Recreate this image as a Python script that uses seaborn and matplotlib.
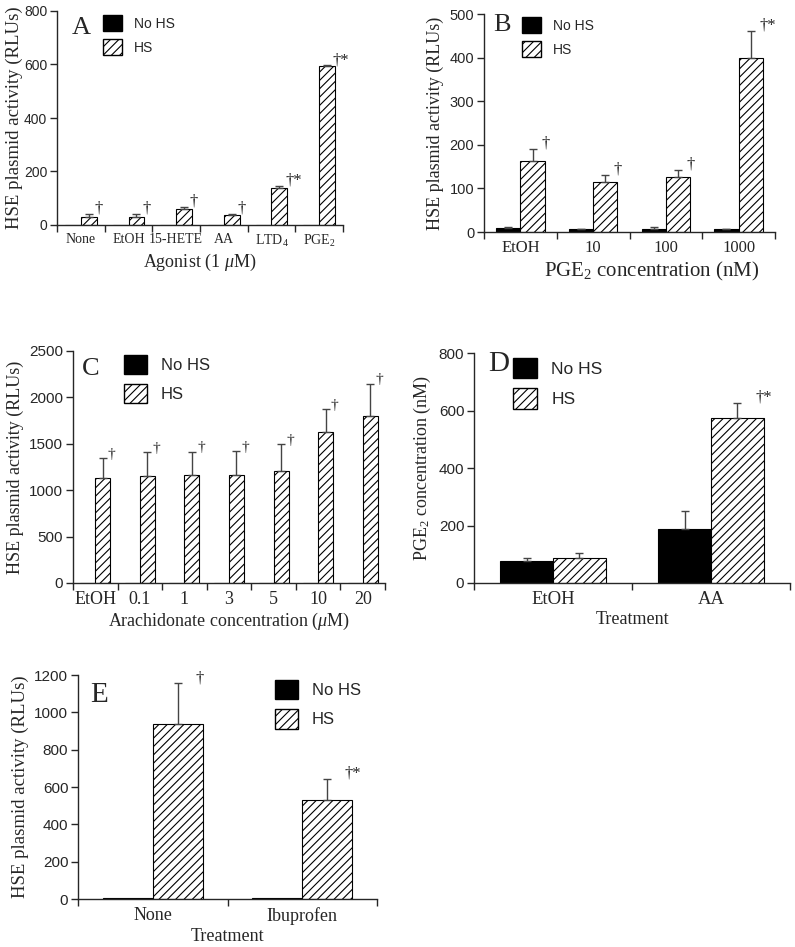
import numpy as np
import pandas as pd
import matplotlib
matplotlib.use('Agg')
import matplotlib.pyplot as plt
from matplotlib.patches import Patch
import seaborn as sns

sns.set_style('ticks')
plt.rcParams['font.family'] = ['Liberation Serif', 'DejaVu Serif']
plt.rcParams['mathtext.fontset'] = 'custom'
plt.rcParams['mathtext.rm'] = 'Liberation Serif'
plt.rcParams['mathtext.it'] = 'Liberation Serif:italic'
plt.rcParams['hatch.linewidth'] = 0.8
SANS = ['Liberation Sans', 'DejaVu Sans']

# ---- data ----
a_cats = ['None', 'EtOH', '15-HETE', 'AA', 'LTD$_4$', 'PGE$_2$']
a_nohs = [1, 1, 1, 1, 1, 1]
a_nohs_err = [0, 0, 0, 0, 0, 0]
a_hs = [29, 29, 59, 36, 140, 595]
a_hs_err = [12, 12, 8, 6, 6, 2]
a_marks = ['†', '†', '†', '†', '†*', '†*']

b_cats = ['EtOH', '10', '100', '1000']
b_nohs = [9, 6, 8, 6]
b_nohs_err = [3, 2, 3, 2]
b_hs = [162, 114, 125, 398]
b_hs_err = [29, 17, 18, 63]
b_marks = ['†', '†', '†', '†*']

c_cats = ['EtOH', '0.1', '1', '3', '5', '10', '20']
c_nohs = [2, 2, 2, 2, 2, 2, 2]
c_nohs_err = [0, 0, 0, 0, 0, 0, 0]
c_hs = [1128, 1153, 1164, 1164, 1211, 1630, 1802]
c_hs_err = [215, 258, 251, 261, 283, 247, 347]
c_marks = ['†', '†', '†', '†', '†', '†', '†']

d_cats = ['EtOH', 'AA']
d_nohs = [78, 188]
d_nohs_err = [9, 61]
d_hs = [87, 574]
d_hs_err = [17, 52]
d_marks = ['', '†*']

e_cats = ['None', 'Ibuprofen']
e_nohs = [3, 3]
e_nohs_err = [0, 0]
e_hs = [940, 530]
e_hs_err = [215, 114]
e_marks = ['†', '†*']


def px_axes(fig, x0, y0, x1, y1):
    W, H = 795, 947
    return fig.add_axes([x0 / W, 1 - y1 / H, (x1 - x0) / W, (y1 - y0) / H])


def panel(ax, cats, nohs, nohs_err, hs, hs_err, marks, ymax, yticks,
          letter, xlabel, ylabel, leg_xy, fs):
    n = len(cats)
    df = pd.DataFrame({
        'cat': list(range(n)) * 2,
        'val': list(nohs) + list(hs),
        'cond': ['No HS'] * n + ['HS'] * n,
    })
    sns.barplot(data=df, x='cat', y='val', hue='cond', ax=ax,
                palette={'No HS': 'black', 'HS': 'white'}, edgecolor='black',
                linewidth=0.8, width=0.67, gap=0, legend=False, errorbar=None,
                order=list(range(n)), hue_order=['No HS', 'HS'])
    for p in ax.patches:
        i = int(round(p.get_x() + p.get_width() / 2))
        is_hs = p.get_facecolor()[0] > 0.5
        if is_hs:
            p.set_hatch('////')
            v, e, m = hs[i], hs_err[i], marks[i]
        else:
            v, e, m = nohs[i], nohs_err[i], ''
        xc = p.get_x() + p.get_width() / 2
        if e > 0:
            ax.errorbar(xc, v, yerr=[[0], [e]], fmt='none', ecolor='#444444',
                        elinewidth=1, capsize=3, capthick=1, zorder=1)
        if m:
            ax.annotate(m, (xc + p.get_width() * 0.35, v + e), xytext=(0, -2),
                        textcoords='offset points', ha='left', va='bottom',
                        fontsize=fs['mark'], color='#222222')
    ax.set_xlim(-0.5, n - 0.5)
    ax.set_ylim(0, ymax)
    ax.set_xticks(np.arange(-0.5, n, 1))
    ax.set_xticklabels([''] * (n + 1))
    ax.set_xticks(np.arange(n), minor=True)
    ax.set_xticklabels(cats, minor=True, fontsize=fs['xtick'])
    ax.tick_params(axis='x', which='minor', length=0, pad=6)
    ax.tick_params(axis='x', which='major', length=5, width=1, direction='out')
    ax.set_yticks(yticks)
    ax.set_yticklabels([str(t) for t in yticks], family=SANS, fontsize=fs['ytick'])
    ax.tick_params(axis='y', length=5, width=1, direction='out', pad=2)
    sns.despine(ax=ax)
    for s in ['left', 'bottom']:
        ax.spines[s].set_linewidth(1)
    ax.set_xlabel(xlabel, fontsize=fs['xlabel'], labelpad=2)
    ax.set_ylabel(ylabel, fontsize=fs['ylabel'], labelpad=fs.get('ypad', 4))
    if 'xlx' in fs:
        ax.xaxis.set_label_coords(fs['xlx'], fs['xly'])
    ax.text(fs['lx'], fs['ly'], letter, transform=ax.transAxes,
            fontsize=fs['letter'], va='top', ha='left')
    handles = [Patch(facecolor='black', edgecolor='black', label='No HS'),
               Patch(facecolor='white', edgecolor='black', hatch='////', label='HS')]
    ax.legend(handles=handles, loc='upper left', bbox_to_anchor=leg_xy,
              bbox_transform=ax.figure.transFigure, frameon=False,
              prop={'family': SANS, 'size': fs['legend']},
              handlelength=1.4, handleheight=1.4, handletextpad=0.8,
              labelspacing=0.6, borderpad=0, borderaxespad=0)


fig = plt.figure(figsize=(7.95, 9.47), dpi=100)

axA = px_axes(fig, 57, 11, 343, 225)
panel(axA, a_cats, a_nohs, a_nohs_err, a_hs, a_hs_err, a_marks, 800,
      [0, 200, 400, 600, 800], 'A', 'Agonist (1 $\\mu$M)',
      'HSE plasmid activity (RLUs)', (103 / 795, 1 - 15 / 947),
      dict(mark=12, xtick=10, ytick=10, xlabel=13, ylabel=13.5, ypad=1,
           letter=19, legend=10, lx=0.05, ly=0.97))

axB = px_axes(fig, 484, 14, 775, 232)
panel(axB, b_cats, b_nohs, b_nohs_err, b_hs, b_hs_err, b_marks, 500,
      [0, 100, 200, 300, 400, 500], 'B', 'PGE$_2$ concentration (nM)',
      'HSE plasmid activity (RLUs)', (522 / 795, 1 - 17 / 947),
      dict(mark=12, xtick=12, ytick=10.5, xlabel=15, ylabel=13, letter=19,
           legend=10, lx=0.03, ly=1.0, xlx=0.575, xly=-0.13))

axC = px_axes(fig, 73, 351, 385, 583)
panel(axC, c_cats, c_nohs, c_nohs_err, c_hs, c_hs_err, c_marks, 2500,
      [0, 500, 1000, 1500, 2000, 2500], 'C',
      'Arachidonate concentration ($\\mu$M)',
      'HSE plasmid activity (RLUs)', (124 / 795, 1 - 355 / 947),
      dict(mark=11, xtick=13, ytick=11, xlabel=13, ylabel=13, letter=19,
           legend=12, lx=0.03, ly=0.97))

axD = px_axes(fig, 474, 353, 790, 583)
panel(axD, d_cats, d_nohs, d_nohs_err, d_hs, d_hs_err, d_marks, 800,
      [0, 200, 400, 600, 800], 'D', 'Treatment',
      'PGE$_2$ concentration (nM)', (513 / 795, 1 - 358 / 947),
      dict(mark=12, xtick=13.5, ytick=11, xlabel=13, ylabel=13, letter=21,
           legend=12.5, lx=0.045, ly=1.01))

axE = px_axes(fig, 78, 675, 377, 899)
panel(axE, e_cats, e_nohs, e_nohs_err, e_hs, e_hs_err, e_marks, 1200,
      [0, 200, 400, 600, 800, 1000, 1200], 'E', 'Treatment',
      'HSE plasmid activity (RLUs)', (275 / 795, 1 - 680 / 947),
      dict(mark=12, xtick=13, ytick=11, xlabel=13, ylabel=13.5, letter=21,
           legend=12, lx=0.04, ly=0.97))

fig.savefig('out.png', dpi=100)
